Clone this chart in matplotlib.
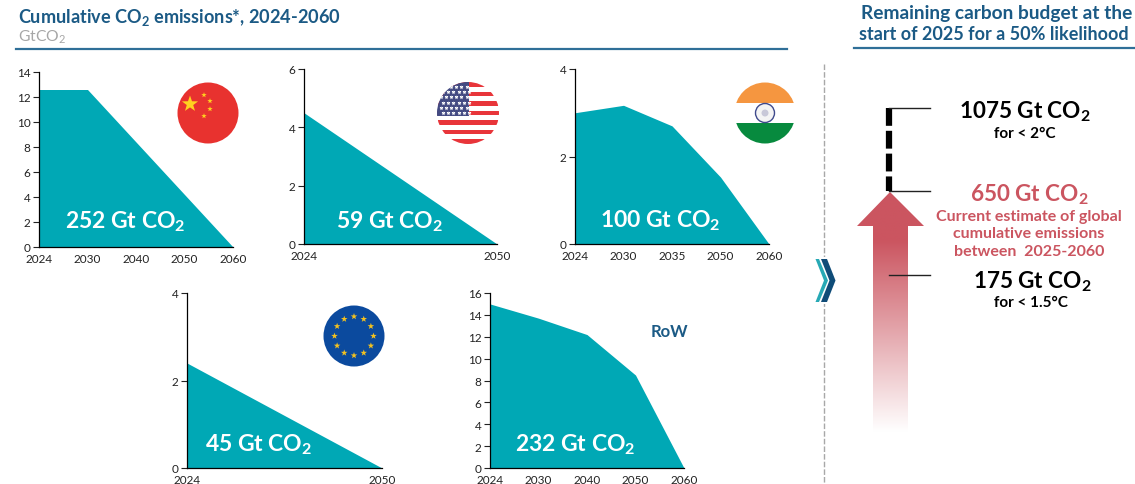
import numpy as np
import matplotlib
matplotlib.use('Agg')
import matplotlib.pyplot as plt
from matplotlib.patches import Circle, Polygon, Rectangle
from matplotlib.path import Path
from matplotlib.patches import PathPatch
from matplotlib.colors import LinearSegmentedColormap

plt.rcParams['font.family'] = ['Lato', 'DejaVu Sans']
plt.rcParams['mathtext.default'] = 'regular'

W, H = 1135, 485
TEAL = '#00a8b5'
NAVY = '#1b5a85'
RED = '#cb5560'

china_years = ['2024', '2030', '2040', '2050', '2060']
china_vals = [12.6, 12.6, 8.4, 4.2, 0]
china_ticks = [0, 2, 4, 6, 8, 10, 12, 14]

us_years = ['2024', '2050']
us_vals = [4.5, 0]
us_ticks = [0, 2, 4, 6]

india_years = ['2024', '2030', '2035', '2050', '2060']
india_vals = [3.0, 3.17, 2.7, 1.53, 0]
india_ticks = [0, 2, 4]

eu_years = ['2024', '2050']
eu_vals = [2.4, 0]
eu_ticks = [0, 2, 4]

row_years = ['2024', '2030', '2040', '2050', '2060']
row_vals = [15.0, 13.7, 12.2, 8.5, 0]
row_ticks = [0, 2, 4, 6, 8, 10, 12, 14, 16]

fig = plt.figure(figsize=(W / 100, H / 100), dpi=100, facecolor='white')


def area_panel(left, right, top, bottom, years, vals, ticks, label, lx, ly):
    ax = fig.add_axes([left / W, 1 - bottom / H, (right - left) / W, (bottom - top) / H])
    x = np.arange(len(years))
    ax.fill_between(x, vals, 0, color=TEAL, lw=0)
    ax.set_xlim(0, len(years) - 1)
    ax.set_ylim(0, ticks[-1])
    ax.set_xticks(x, years)
    ax.set_yticks(ticks)
    ax.tick_params(axis='x', length=0, labelsize=8.5, pad=4, colors='#222222')
    ax.tick_params(axis='y', length=4, width=0.8, labelsize=8.5, pad=2, colors='#222222')
    ax.spines[['top', 'right']].set_visible(False)
    ax.spines[['left', 'bottom']].set_linewidth(0.9)
    ax.patch.set_alpha(0)
    ov.text(lx, ly, label, color='white', fontsize=16.5, fontweight='bold', ha='center', va='center')
    return ax


# overlay in pixel coordinates for flags, headers and the budget arrow
ov = fig.add_axes([0, 0, 1, 1], zorder=5)
ov.patch.set_alpha(0)
ov.axis('off')

area_panel(39, 233, 73, 248, china_years, china_vals, china_ticks, '252 Gt CO$_2$', 125, 222)
area_panel(304, 497, 70, 245, us_years, us_vals, us_ticks, '59 Gt CO$_2$', 390, 222)
area_panel(575, 769, 70, 245, india_years, india_vals, india_ticks, '100 Gt CO$_2$', 660, 221)
area_panel(187, 382, 294, 469, eu_years, eu_vals, eu_ticks, '45 Gt CO$_2$', 259, 445)
area_panel(490, 684, 294, 469, row_years, row_vals, row_ticks, '232 Gt CO$_2$', 575, 445)

# headers
ov.text(18, 18, 'Cumulative CO$_2$ emissions*, 2024-2060', color=NAVY, fontsize=13.1, fontweight='bold', va='center')
ov.text(18, 37, 'GtCO$_2$', color='#a6a6a6', fontsize=11.3, va='center')
ov.plot([16, 787], [50, 50], color='#2f6f98', lw=1.6)
ov.text(996.5, 14, 'Remaining carbon budget at the', color=NAVY, fontsize=13.8, fontweight='bold', ha='center', va='center')
ov.text(993.5, 34, 'start of 2025 for a 50% likelihood', color=NAVY, fontsize=13.0, fontweight='bold', ha='center', va='center')
ov.plot([854, 1135], [49, 49], color='#2f6f98', lw=1.6)
ov.text(669, 332, 'RoW', color=NAVY, fontsize=12, fontweight='bold', ha='center', va='center')

# separator and chevrons
ov.plot([824, 824], [65, 485], color='#a8a8a8', lw=1, ls=(0, (4, 1.5)))
ov.add_patch(Rectangle((813, 258), 25, 47, color='white', lw=0, zorder=3))
ov.add_patch(Polygon([(815.5, 260), (819, 260), (828, 281.5), (819, 303), (815.5, 303), (824, 281.5)], color='#27a9b5', lw=0, zorder=4))
ov.add_patch(Polygon([(821, 260), (827, 260), (835.5, 281.5), (827, 303), (821, 303), (829.5, 281.5)], color='#0f4c78', lw=0, zorder=4))


def star(ax, cx, cy, r, color, rot=0):
    pts = []
    for i in range(10):
        rad = r if i % 2 == 0 else r * 0.4
        a = np.radians(-90 + rot + i * 36)
        pts.append((cx + rad * np.cos(a), cy + rad * np.sin(a)))
    ax.add_patch(Polygon(pts, color=color, lw=0, zorder=6))


# China
ov.add_patch(Circle((208, 114), 30.5, color='#e8322f', lw=0))
star(ov, 190, 105, 8.5, '#ffd21f')
for sx, sy in [(204, 96), (210, 102), (210, 110), (204, 117)]:
    star(ov, sx, sy, 2.8, '#ffd21f')

# USA
us_clip = Circle((468, 114), 31, transform=ov.transData)
for i in range(13):
    y0 = 83 + i * 62 / 13
    c = '#e8353a' if i % 2 == 0 else 'white'
    ov.add_patch(Rectangle((436, y0), 64, 62 / 13, color=c, lw=0, clip_path=us_clip))
ov.add_patch(Rectangle((436, 83), 33, 34, color='#434a82', lw=0, clip_path=us_clip))
for r in range(6):
    for c in range(6):
        ov.plot(440.5 + c * 5.2 + (r % 2) * 2.4, 88 + r * 5.2, marker='*', ms=3.2, color='white', mew=0,
                clip_path=us_clip, zorder=6)

# India
ind_clip = Circle((765, 114), 30.5, transform=ov.transData)
ov.add_patch(Rectangle((734, 83), 62, 21, color='#f59640', lw=0, clip_path=ind_clip))
ov.add_patch(Rectangle((734, 124), 62, 22, color='#078a3e', lw=0, clip_path=ind_clip))
ov.add_patch(Circle((765, 114), 9.5, fc='#f4f4f4', ec='#3f4a8c', lw=1))
ov.add_patch(Circle((765, 114), 3.5, fc='#c8c8d8', lw=0))

# EU
ov.add_patch(Circle((354, 337), 30.5, color='#0b4a9e', lw=0))
for k in range(12):
    a = np.radians(k * 30)
    star(ov, 354 + 19.5 * np.sin(a), 337 - 19.5 * np.cos(a), 3.4, '#f4c21f')

# budget arrow, fading to white towards its base
arrow_path = Path([(873, 433), (873, 227), (857, 227), (890, 193), (924, 227), (908, 227), (908, 433), (873, 433)], closed=True)
arrow_patch = PathPatch(arrow_path, fc='none', lw=0, transform=ov.transData)
ov.add_patch(arrow_patch)
cmap = LinearSegmentedColormap.from_list('fade', [(0, RED), (0.2, RED), (1, 'white')])
grad = np.linspace(0, 1, 256).reshape(-1, 1)
im = ov.imshow(grad, extent=(855, 926, 433, 193), cmap=cmap, aspect='auto', zorder=2)
im.set_clip_path(arrow_patch)

ov.plot([889, 889], [109, 192], color='black', lw=4.5, ls=(0, (2.85, 0.8)), zorder=3, dash_capstyle='butt')
for y0 in [109, 192, 276]:
    ov.plot([889, 930], [y0, y0], color='#222222', lw=1, zorder=3)

ov.text(1025, 112, '1075 Gt CO$_2$', color='black', fontsize=16.2, fontweight='bold', ha='center', va='center')
ov.text(1025, 134, 'for < 2°C', color='black', fontsize=11, fontweight='bold', ha='center', va='center')
ov.text(1029, 195, '650 Gt CO$_2$', color=RED, fontsize=16.2, fontweight='bold', ha='center', va='center')
ov.text(1029, 217, 'Current estimate of global', color=RED, fontsize=11.5, fontweight='bold', ha='center', va='center')
ov.text(1029, 234, 'cumulative emissions', color=RED, fontsize=11.5, fontweight='bold', ha='center', va='center')
ov.text(1029, 252, 'between  2025-2060', color=RED, fontsize=11.5, fontweight='bold', ha='center', va='center')
ov.text(1032, 282, '175 Gt CO$_2$', color='black', fontsize=16.2, fontweight='bold', ha='center', va='center')
ov.text(1031, 303, 'for < 1.5°C', color='black', fontsize=11, fontweight='bold', ha='center', va='center')

ov.set_xlim(0, W)
ov.set_ylim(H, 0)

fig.savefig('out.png', dpi=100)
